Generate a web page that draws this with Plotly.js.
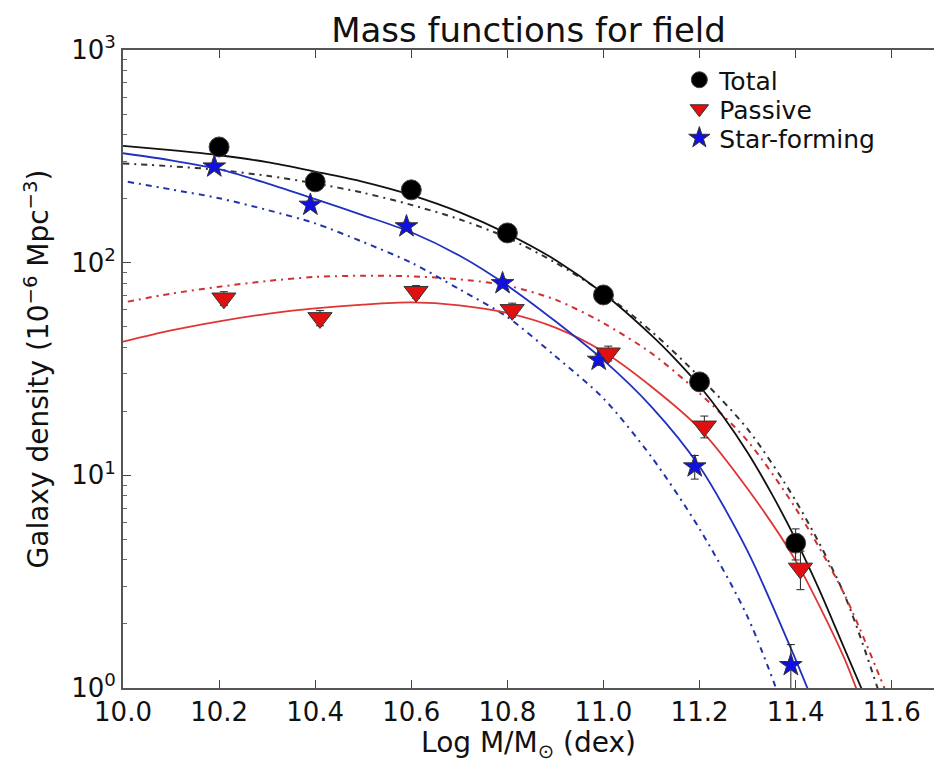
<!DOCTYPE html>
<html>
<head>
<meta charset="utf-8">
<script src="https://cdn.plot.ly/plotly-3.0.1.min.js"></script>
<style>html,body{margin:0;padding:0;background:#fff;overflow:hidden}</style>
</head>
<body>
<div id="chart" style="width:934px;height:763px"></div>
<script>
// ---- measured data points ----
const totalX = [10.2, 10.4, 10.6, 10.8, 11.0, 11.2, 11.4];
const totalY = [350, 240, 220, 138, 70.5, 27.5, 4.8];
const totalErr = [14, 11, 10, 7, 4, 2.2, 0.8];

const passiveX = [10.21, 10.41, 10.61, 10.81, 11.01, 11.21, 11.41];
const passiveY = [68, 55, 73, 60, 37.5, 17, 3.65];
const passiveErr = [5, 4.5, 5, 4.5, 3, 2, 0.75];

const sfX = [10.19, 10.39, 10.59, 10.79, 10.99, 11.19, 11.39];
const sfY = [283, 187, 148, 80, 34.9, 11, 1.28];
const sfErr = [10, 8, 7, 4, 2, 1.4, 0.32];

// ---- curves ----
const totalFitX = [10.0,10.1,10.2,10.3,10.4,10.5,10.6,10.7,10.8,10.9,11.0,11.1,11.15,11.2,11.25,11.3,11.35,11.4,11.45,11.5,11.55];
const totalFitY = [354,338,320,297,268,240,208,173,137,103,71.6,45.5,35.1,26.3,18.8,12.8,8.2,5.0,2.87,1.56,0.85];

const totalAltX = [10.0,10.1,10.2,10.3,10.4,10.5,10.6,10.7,10.8,10.9,11.0,11.1,11.2,11.3,11.4,11.5,11.58];
const totalAltY = [293,284,273,256,236,213,187,160,131,100,72,47.5,29,16.5,7.6,2.8,0.86];

const passiveFitX = [10.0,10.1,10.2,10.3,10.4,10.5,10.6,10.7,10.8,10.9,11.0,11.1,11.2,11.3,11.4,11.5,11.54];
const passiveFitY = [42.5,48,53,57.5,61,63.5,65,63,58,49.5,38.1,26.1,16.6,8.65,3.97,1.40,0.82];

const passiveAltX = [10.01,10.1,10.2,10.3,10.4,10.5,10.6,10.7,10.8,10.9,11.0,11.1,11.2,11.3,11.4,11.5,11.6];
const passiveAltY = [65.6,71.5,77,82,85.7,86.8,86.3,83.5,78,67,52,37.5,24.3,14.5,7.0,2.8,0.82];

const sfFitX = [10.0,10.1,10.2,10.3,10.4,10.5,10.6,10.7,10.8,10.9,11.0,11.1,11.2,11.3,11.4,11.45];
const sfFitY = [327,303,275,236,199,167,139,108,78,53,34.8,21,11,4.4,1.36,0.72];

const sfAltX = [10.01,10.1,10.2,10.3,10.4,10.5,10.6,10.7,10.8,10.9,11.0,11.1,11.2,11.3,11.4];
const sfAltY = [240,221,201,177,153,125,100,75,55.5,36.3,23,12.2,5.6,2.16,0.56];

const yTickVals = [1, 10, 100, 1000];
const yTickText = ['10<sup>0</sup>', '10<sup>1</sup>', '10<sup>2</sup>', '10<sup>3</sup>'];

const BLACK = '#111111', RED = '#e01010', BLUE = '#1010e0';
const dashdot = '6px,5px,2px,5px';
const FONT = 'DejaVu Sans, Bitstream Vera Sans, sans-serif';

function curve(x, y, color, dash, width) {
  return {x: x, y: y, type: 'scatter', mode: 'lines', showlegend: false, hoverinfo: 'skip',
          line: {color: color, width: width, dash: dash, shape: 'spline', smoothing: 0.8}};
}

const traces = [
  curve(totalAltX, totalAltY, '#333333', dashdot, 2),
  curve(passiveAltX, passiveAltY, '#d03030', dashdot, 2),
  curve(sfAltX, sfAltY, '#2233aa', dashdot, 2),
  curve(totalFitX, totalFitY, BLACK, 'solid', 1.8),
  curve(passiveFitX, passiveFitY, '#e03535', 'solid', 1.8),
  curve(sfFitX, sfFitY, '#2030c0', 'solid', 1.8),
  {x: sfX, y: sfY, type: 'scatter', mode: 'markers', name: 'Star-forming', legend: 'legend3',
   error_y: {type: 'data', array: sfErr, color: '#222', thickness: 1, width: 4},
   marker: {symbol: 'star', size: 17, color: BLUE, line: {color: '#333', width: 1}}},
  {x: passiveX, y: passiveY, type: 'scatter', mode: 'markers', name: 'Passive', legend: 'legend2',
   error_y: {type: 'data', array: passiveErr, color: '#222', thickness: 1, width: 4},
   marker: {symbol: 'triangle-down', size: 21, color: RED, line: {color: '#333', width: 1}}},
  {x: totalX, y: totalY, type: 'scatter', mode: 'markers', name: 'Total', legend: 'legend',
   error_y: {type: 'data', array: totalErr, color: '#222', thickness: 1, width: 4},
   marker: {symbol: 'circle', size: 20, color: '#000', line: {color: '#444', width: 1}}}
];

function leg(y) {
  return {x: 0.686, xanchor: 'left', y: y, yanchor: 'middle', bgcolor: 'rgba(0,0,0,0)',
          borderwidth: 0, font: {family: FONT, size: 25, color: '#111'}, itemwidth: 30};
}

const layout = {
  width: 934, height: 763,
  margin: {l: 123, r: 0, t: 50, b: 75, pad: 0},
  paper_bgcolor: '#fff', plot_bgcolor: '#fff',
  font: {family: FONT, color: '#111'},
  title: {text: 'Mass functions for field', x: 0.5, xref: 'paper', xanchor: 'center',
          y: 0.96, yref: 'container', yanchor: 'middle', font: {family: FONT, size: 34, color: '#111'}},
  xaxis: {range: [10, 11.688], tick0: 10, dtick: 0.2, tickformat: '.1f',
          ticks: 'inside', ticklen: 8, tickwidth: 1, tickcolor: '#444',
          showline: true, linecolor: '#555', linewidth: 2, mirror: 'ticks',
          showgrid: false, zeroline: false,
          tickfont: {family: FONT, size: 26, color: '#111'},
          title: {text: 'Log M/M<sub>⊙</sub> (dex)', font: {family: FONT, size: 28, color: '#111'}, standoff: 8}},
  yaxis: {type: 'log', range: [0, 3], tickvals: yTickVals, ticktext: yTickText,
          ticks: 'inside', ticklen: 8, tickwidth: 1, tickcolor: '#444',
          minor: {ticks: 'inside', ticklen: 4, tickwidth: 1, tickcolor: '#666', dtick: 'D1', showgrid: false},
          showline: true, linecolor: '#555', linewidth: 2, mirror: false,
          showgrid: false, zeroline: false,
          tickfont: {family: FONT, size: 26, color: '#111'},
          title: {text: 'Galaxy density (10<sup>−6</sup> Mpc<sup>−3</sup>)', font: {family: FONT, size: 28, color: '#111'}, standoff: 14}},
  legend: leg((688 - 80) / 638),
  legend2: leg((688 - 109) / 638),
  legend3: leg((688 - 138) / 638)
};

Plotly.newPlot('chart', traces, layout, {displayModeBar: false, staticPlot: true});
</script>
</body>
</html>
